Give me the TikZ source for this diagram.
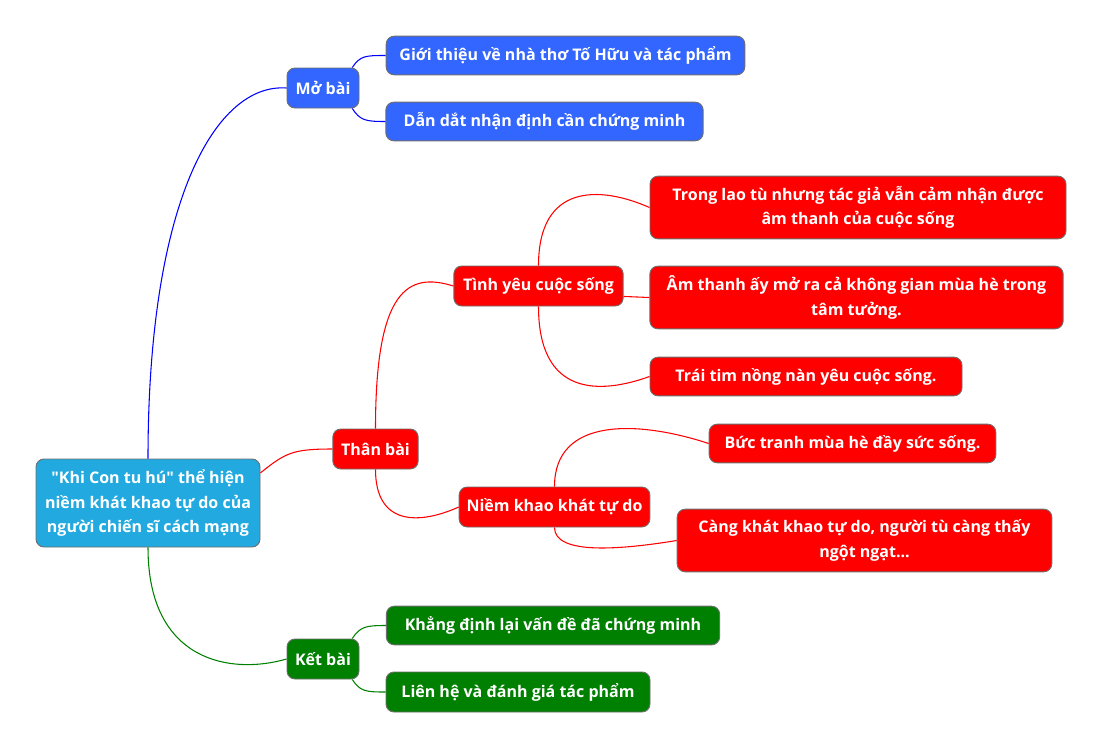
\documentclass[tikz,border=0pt]{standalone}
\usepackage{fontspec}
\setmainfont{Open Sans}[Ligatures=TeXOff]
\usetikzlibrary{positioning}

\definecolor{rootblue}{RGB}{34,170,224}
\definecolor{openblue}{RGB}{51,102,255}
\definecolor{bodyred}{RGB}{255,0,0}
\definecolor{endgreen}{RGB}{0,128,0}
\definecolor{edgegray}{RGB}{110,110,110}

\begin{document}
\begin{tikzpicture}[x=0.75pt, y=-0.75pt,
	box/.style = {draw = edgegray, line width = 0.7pt, rounded corners = 6pt,
		text = white, font = \fontsize{12pt}{18.5pt}\selectfont\bfseries,
		align = center, inner sep = 2pt},
	onebox/.style = {box, minimum height = 29pt},
	twobox/.style = {box, minimum height = 47pt},
	link/.style = {line width = 0.8pt}]

	\useasboundingbox (0, 0) rectangle (1103, 750);

	% Root
	
	\node [box, fill = rootblue, minimum width = 168pt, minimum height = 66pt] (root) at (148, 503)
		{"Khi Con tu hú" thể hiện\\niềm khát khao tự do của\\người chiến sĩ cách mạng};
		
	% Mở bài branch
	
	\node [onebox, fill = openblue, minimum width = 54pt, minimum height = 30pt] (mo) at (323, 88) {Mở bài};
	\node [onebox, fill = openblue, minimum width = 269pt] (gioithieu) at (565.5, 55.5) {Giới thiệu về nhà thơ Tố Hữu và tác phẩm};
	\node [onebox, fill = openblue, minimum width = 238pt] (dandat) at (544.5, 121.5) {Dẫn dắt nhận định cần chứng minh};
	
	% Thân bài branch
	
	\node [onebox, fill = bodyred, minimum width = 64pt, minimum height = 30pt] (than) at (375.5, 449) {Thân bài};
	\node [onebox, fill = bodyred, minimum width = 127pt, minimum height = 30pt] (tinhyeu) at (538.5, 286) {Tình yêu cuộc sống};
	\node [twobox, fill = bodyred, minimum width = 312pt] (laotu) at (858, 207.5)
		{Trong lao tù nhưng tác giả vẫn cảm nhận được\\âm thanh của cuộc sống};
	\node [twobox, fill = bodyred, minimum width = 310pt] (amthanh) at (856.5, 297.5)
		{Âm thanh ấy mở ra cả không gian mùa hè trong\\tâm tưởng.};
	\node [onebox, fill = bodyred, minimum width = 234pt] (traitim) at (806, 376.5) {Trái tim nồng nàn yêu cuộc sống.};
	\node [onebox, fill = bodyred, minimum width = 143pt, minimum height = 30pt] (niem) at (554.5, 507) {Niềm khao khát tự do};
	\node [onebox, fill = bodyred, minimum width = 215pt] (buctranh) at (852.5, 443.5) {Bức tranh mùa hè đầy sức sống.};
	\node [twobox, fill = bodyred, minimum width = 281pt] (cangkhat) at (864.5, 540.5)
		{Càng khát khao tự do, người tù càng thấy\\ngột ngạt...};
		
	% Kết bài branch
	
	\node [onebox, fill = endgreen, minimum width = 54pt, minimum height = 30pt] (ket) at (323, 659) {Kết bài};
	\node [onebox, fill = endgreen, minimum width = 250pt] (khangdinh) at (553, 625.5) {Khẳng định lại vấn đề đã chứng minh};
	\node [onebox, fill = endgreen, minimum width = 198pt, minimum height = 30pt] (lienhe) at (518, 692) {Liên hệ và đánh giá tác phẩm};
	
	% Connectors
	
	\draw [link, blue] (root.north) .. controls +(0, -260) and +(-70, -5) .. (mo.west);
	\draw [link, blue] (mo.35) .. controls +(8, -12) and +(-20, 0) .. (gioithieu.west);
	\draw [link, blue] (mo.-35) .. controls +(8, 12) and +(-20, 0) .. (dandat.west);
	
	\draw [link, red] (root.15) .. controls +(25, -20) and +(-40, 0) .. (than.west);
	\draw [link, red] (than.north) .. controls +(0, -140) and +(-45, -14) .. (tinhyeu.west);
	\draw [link, red] (than.south) .. controls +(0, 56) and +(-40, 18) .. (niem.west);
	\draw [link, red] (tinhyeu.north) .. controls +(0, -82) and +(-50, -22) .. (laotu.west);
	\draw [link, red] (tinhyeu.-7) -- (amthanh.west);
	\draw [link, red] (tinhyeu.south) .. controls +(0, 90) and +(-50, 18) .. (traitim.west);
	\draw [link, red] (niem.north) .. controls +(0, -70) and +(-70, -23) .. (buctranh.west);
	\draw [link, red] (niem.south) .. controls +(0, 28) and +(-55, 9) .. (cangkhat.west);
	
	\draw [link, endgreen] (root.south) .. controls +(0, 115) and +(-55, 16) .. (ket.west);
	\draw [link, endgreen] (ket.35) .. controls +(8, -12) and +(-20, 0) .. (khangdinh.west);
	\draw [link, endgreen] (ket.-35) .. controls +(8, 12) and +(-20, 0) .. (lienhe.west);

\end{tikzpicture}
\end{document}
